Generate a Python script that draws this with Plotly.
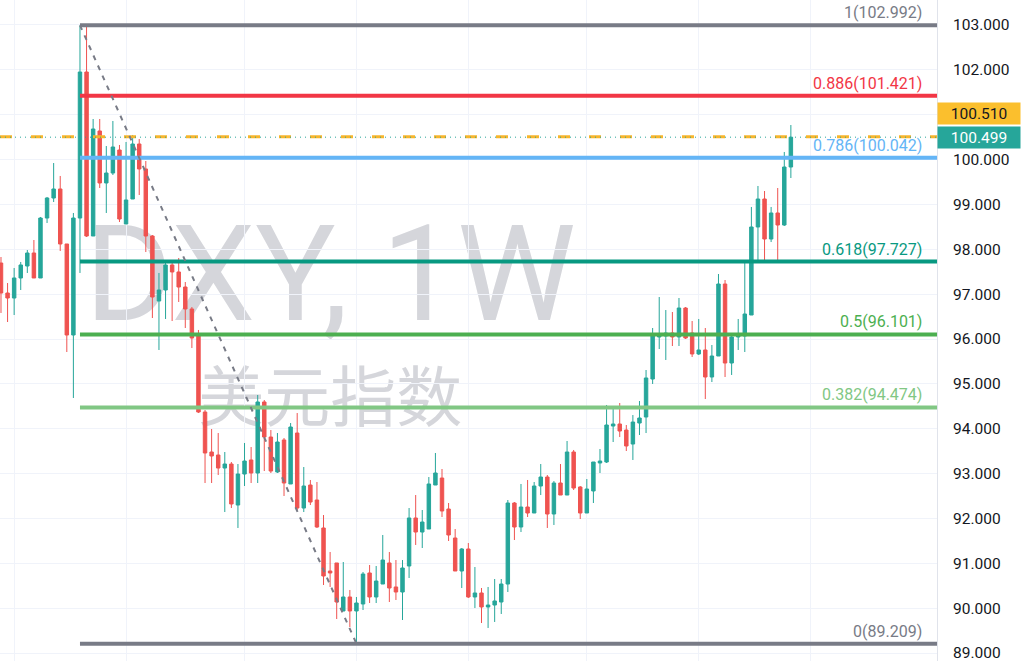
import plotly.graph_objects as go
import pandas as pd

# ---------------- data ----------------
dates = pd.date_range("2019-12-23", periods=121, freq="7D")

open_ = [97.694, 97.025, 96.914, 97.360, 97.627, 97.917, 97.360, 98.697, 99.143, 99.344,
         98.118, 96.089, 98.697, 101.952, 98.296, 100.637, 99.478, 99.700, 100.213, 98.564,
         99.121, 100.347, 99.790, 98.296, 96.847, 97.092, 97.650, 97.494, 97.159, 96.669,
         96.089, 94.372, 93.481, 93.414, 93.124, 93.213, 92.299, 92.990, 93.303, 93.013,
         94.596, 93.815, 93.035, 93.749, 92.768, 93.904, 92.232, 92.745, 92.411, 91.787,
         90.828, 91.007, 89.937, 90.249, 89.937, 90.093, 90.784, 90.249, 90.538, 91.007,
         90.472, 90.360, 90.940, 92.010, 91.697, 91.764, 92.745, 92.901, 92.210, 91.564,
         90.828, 91.319, 90.249, 90.338, 90.026, 90.070, 90.137, 90.538, 92.344, 91.809,
         92.255, 92.121, 92.723, 92.923, 92.099, 92.790, 92.522, 93.481, 92.701, 92.121,
         92.612, 93.236, 93.258, 94.060, 94.105, 93.971, 93.659, 94.127, 94.261, 95.108,
         96.045, 96.067, 96.134, 96.045, 96.691, 96.134, 95.666, 95.755, 95.153, 95.621,
         97.226, 95.465, 96.045, 96.067, 96.535, 98.497, 99.121, 98.229, 98.809, 98.541,
         99.834]

high = [97.828, 97.248, 97.583, 97.717, 97.984, 98.207, 98.720, 99.166, 99.923, 99.634,
        98.118, 98.809, 102.992, 102.955, 100.904, 100.904, 100.302, 100.860, 100.325, 100.392,
        100.548, 100.458, 99.968, 98.318, 97.472, 97.694, 97.761, 97.806, 97.270, 96.713,
        96.201, 94.417, 93.994, 93.904, 93.481, 93.258, 93.213, 93.682, 93.592, 94.752,
        94.640, 93.971, 93.904, 93.793, 94.127, 94.350, 93.146, 92.857, 92.812, 92.076,
        91.252, 91.007, 91.029, 90.405, 90.249, 90.806, 90.962, 90.940, 91.631, 91.252,
        91.073, 91.073, 92.232, 92.522, 92.188, 92.923, 93.459, 93.102, 92.344, 91.764,
        91.341, 91.452, 90.917, 90.449, 90.472, 90.650, 90.650, 92.411, 92.366, 92.768,
        92.857, 92.812, 93.213, 92.968, 92.834, 93.213, 93.726, 93.526, 92.723, 92.879,
        93.258, 93.548, 94.529, 94.462, 94.573, 94.083, 94.305, 94.618, 95.309, 96.245,
        96.936, 96.646, 96.602, 96.914, 96.713, 96.401, 96.446, 96.245, 95.866, 97.449,
        97.315, 96.067, 96.446, 97.761, 98.943, 99.411, 99.299, 98.943, 99.366, 100.169,
        100.770]

low = [96.580, 96.379, 96.535, 97.092, 97.472, 97.360, 97.360, 98.586, 99.054, 97.962,
       95.710, 94.685, 97.472, 98.274, 98.296, 99.366, 98.809, 99.656, 98.608, 98.564,
       99.121, 99.210, 97.939, 96.468, 95.755, 96.446, 96.401, 96.825, 96.245, 95.799,
       94.350, 92.790, 92.790, 92.968, 92.143, 92.232, 91.787, 92.723, 92.790, 92.790,
       93.057, 93.013, 93.013, 92.500, 92.768, 92.188, 92.143, 92.299, 91.787, 90.516,
       90.472, 89.758, 89.937, 89.580, 89.209, 89.959, 90.115, 90.115, 90.538, 90.137,
       90.182, 89.736, 90.672, 91.408, 91.341, 91.764, 92.745, 92.032, 91.497, 90.828,
       90.449, 90.226, 90.003, 89.669, 89.558, 89.692, 89.870, 90.360, 91.519, 91.697,
       92.032, 92.121, 92.522, 91.787, 91.854, 92.522, 92.522, 92.634, 91.987, 92.121,
       92.344, 93.013, 93.236, 93.704, 93.815, 93.503, 93.303, 93.860, 93.904, 94.997,
       95.777, 95.532, 95.844, 95.844, 96.000, 95.599, 95.643, 94.662, 95.041, 95.621,
       95.153, 95.198, 95.755, 95.710, 96.535, 97.717, 97.717, 98.162, 97.694, 98.519,
       99.589]

close = [97.025, 96.914, 97.360, 97.650, 97.917, 97.360, 98.697, 99.143, 99.344, 98.118,
         96.089, 98.697, 101.952, 98.296, 100.681, 99.478, 99.700, 100.280, 98.675, 99.099,
         100.347, 99.790, 98.296, 96.936, 97.092, 97.650, 97.494, 97.159, 96.669, 96.022,
         94.372, 93.459, 93.392, 93.124, 93.213, 92.322, 92.990, 93.280, 93.013, 94.596,
         93.815, 93.057, 93.704, 92.790, 94.038, 92.232, 92.723, 92.366, 91.809, 90.717,
         90.784, 90.137, 90.249, 89.937, 90.115, 90.761, 90.249, 90.605, 91.073, 90.449,
         90.360, 90.895, 92.010, 91.697, 91.920, 92.768, 93.013, 92.166, 91.631, 90.828,
         91.319, 90.249, 90.338, 90.026, 90.070, 90.160, 90.538, 92.344, 91.809, 92.255,
         92.121, 92.723, 92.923, 92.099, 92.790, 92.522, 93.481, 92.678, 92.121, 92.656,
         93.258, 93.280, 94.083, 94.105, 93.949, 93.615, 94.149, 94.239, 95.131, 96.067,
         96.089, 96.134, 96.045, 96.691, 96.022, 95.666, 95.755, 95.153, 95.621, 97.226,
         95.465, 96.045, 96.067, 96.557, 98.497, 99.121, 98.229, 98.809, 98.541, 99.834,
         100.499]

fib_ratios = ["1", "0.886", "0.786", "0.618", "0.5", "0.382", "0"]
fib_prices = [102.992, 101.421, 100.042, 97.727, 96.101, 94.474, 89.209]
fib_colors = ["#787b86", "#f23645", "#64b5f6", "#089981", "#4caf50", "#81c784", "#787b86"]

fib_start_index = 12   # swing high bar
fib_end_index = 54     # swing low bar

y_ticks = list(range(89, 104))
hidden_tick_labels = [101]   # covered by the price label in the reference
y_tick_labels = ["" if v in hidden_tick_labels else f"{v:.3f}" for v in y_ticks]
grid_dates = ["2020-01-06", "2020-05-04", "2020-09-07", "2021-01-04",
              "2021-05-03", "2021-09-06", "2022-01-03", "2022-05-02"]

last_price = 100.499
other_price = 100.510
watermark_main = "DXY, 1W"
watermark_sub = "美元指数"

UP = "#26a69a"
DOWN = "#ef5350"
FONT = "Roboto"

# ---------------- figure ----------------
x_start = dates[0] - pd.Timedelta(days=1.05)
x_end = dates[0] + pd.Timedelta(days=995.4)

fig = go.Figure()
fig.add_trace(go.Candlestick(
    x=dates, open=open_, high=high, low=low, close=close,
    increasing=dict(line=dict(color=UP, width=1), fillcolor=UP),
    decreasing=dict(line=dict(color=DOWN, width=1), fillcolor=DOWN),
    whiskerwidth=0, showlegend=False, hoverinfo="skip",
))

shapes = []
# watermark (between grid and candles)
shapes.append(dict(type="rect", xref="paper", yref="paper",
                   x0=0.30, x1=0.405, y0=0.58, y1=0.62, layer="between",
                   line=dict(width=0), fillcolor="rgba(0,0,0,0)",
                   label=dict(text=watermark_main, textposition="middle center",
                              font=dict(family=FONT, size=134, color="#d5d6db"))))
shapes.append(dict(type="rect", xref="paper", yref="paper",
                   x0=0.30, x1=0.405, y0=0.37, y1=0.41, layer="between",
                   line=dict(width=0), fillcolor="rgba(0,0,0,0)",
                   label=dict(text=watermark_sub, textposition="middle center",
                              font=dict(family="Noto Sans CJK SC", size=66, color="#d5d6db"))))

# current price lines
shapes.append(dict(type="line", xref="paper", yref="y", x0=0, x1=1,
                   y0=other_price, y1=other_price, layer="above",
                   line=dict(color="#f7b52c", width=3, dash="12px,19px")))
shapes.append(dict(type="line", xref="paper", yref="y", x0=0, x1=1,
                   y0=last_price, y1=last_price, layer="above",
                   line=dict(color=UP, width=1, dash="1px,4px")))

# fib levels
for p, c in zip(fib_prices, fib_colors):
    shapes.append(dict(type="line", xref="x", yref="y",
                       x0=dates[fib_start_index], x1=x_end, y0=p, y1=p,
                       layer="above", line=dict(color=c, width=4)))
# trend line
shapes.append(dict(type="line", xref="x", yref="y",
                   x0=dates[fib_start_index], y0=fib_prices[0],
                   x1=dates[fib_end_index], y1=fib_prices[-1],
                   layer="above", line=dict(color="#787b86", width=2, dash="5px,6px")))

annotations = []
for r, p, c in zip(fib_ratios, fib_prices, fib_colors):
    annotations.append(dict(xref="paper", yref="y", x=0.986, y=p,
                            xanchor="right", yanchor="bottom", yshift=1,
                            text=f"{r}({p:.3f})", showarrow=False,
                            font=dict(family=FONT, size=16, color=c)))

annotations.append(dict(xref="paper", yref="y", x=1, y=other_price,
                        xanchor="left", yanchor="middle", yshift=23,
                        text=f"{other_price:.3f}", showarrow=False,
                        bgcolor="#fbbf2d", width=80, height=19, borderpad=1,
                        font=dict(family=FONT, size=15.5, color="#131722")))
annotations.append(dict(xref="paper", yref="y", x=1, y=last_price,
                        xanchor="left", yanchor="middle", yshift=0,
                        text=f"{last_price:.3f}", showarrow=False,
                        bgcolor=UP, width=80, height=19, borderpad=1,
                        font=dict(family=FONT, size=15.5, color="#ffffff")))

fig.update_layout(
    width=1024, height=661,
    margin=dict(l=0, r=87, t=0, b=0),
    paper_bgcolor="#ffffff", plot_bgcolor="#ffffff",
    boxgap=0.25,
    shapes=shapes, annotations=annotations,
    showlegend=False,
    xaxis=dict(type="date", range=[x_start, x_end], tickvals=grid_dates,
               showticklabels=False, showgrid=True, gridcolor="#f0f3fa",
               zeroline=False, rangeslider=dict(visible=False), ticks="",
               showline=False),
    yaxis=dict(side="right", range=[88.822, 103.557], tickvals=y_ticks,
               ticktext=y_tick_labels, showgrid=True, gridcolor="#f0f3fa",
               zeroline=False, ticks="", ticklabelstandoff=12,
               ticklabeloverflow="allow",
               showline=True, linecolor="#e0e3eb", linewidth=1,
               tickfont=dict(family=FONT, size=15.5, color="#131722")),
)

fig.write_html("out.html", config={"displayModeBar": False},
               post_script="document.body.style.margin='0';")
